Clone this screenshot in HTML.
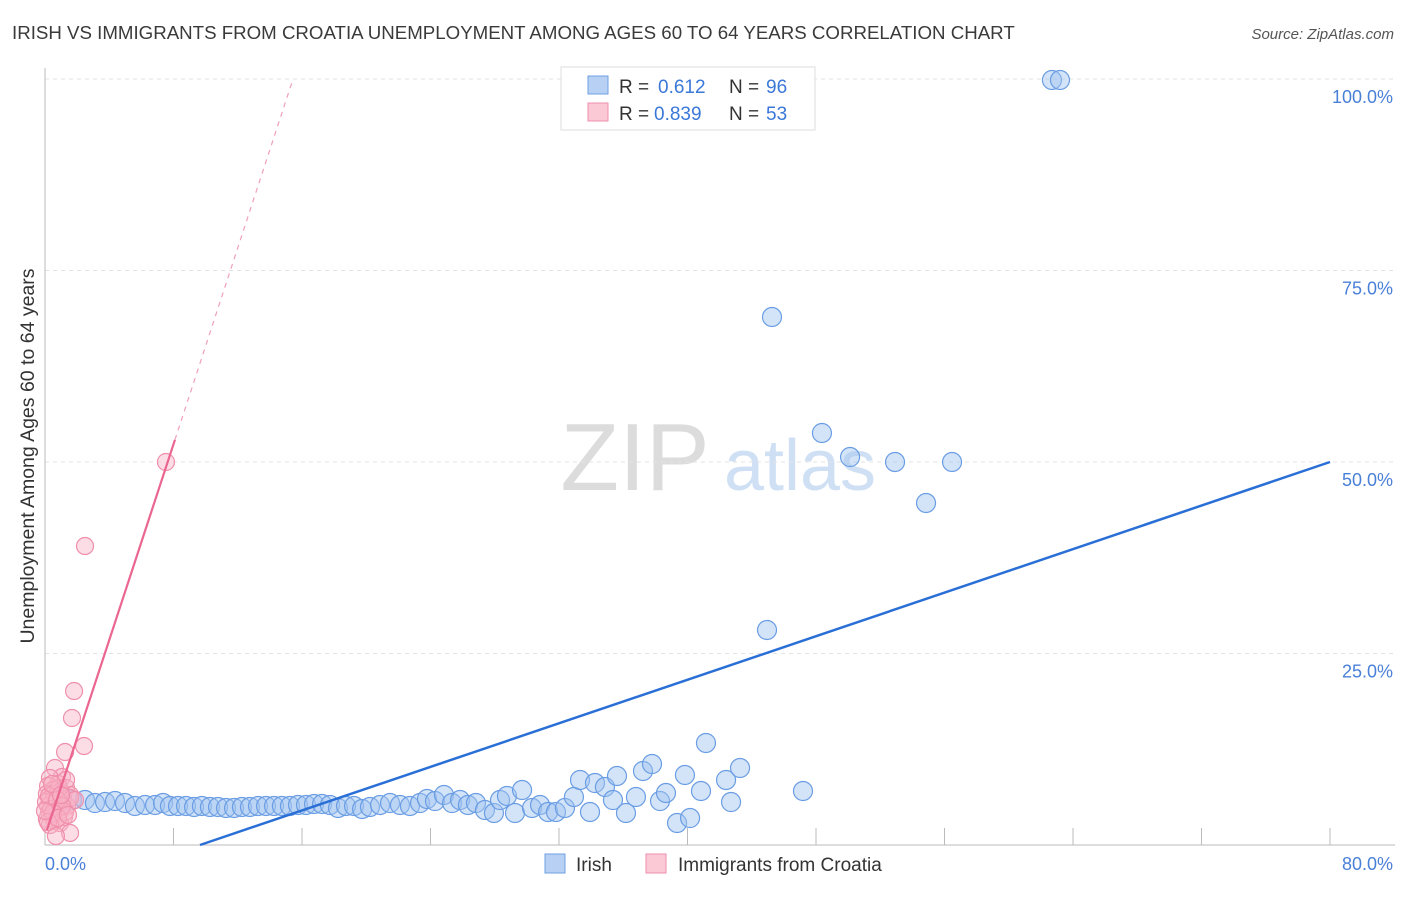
<!DOCTYPE html>
<html><head><meta charset="utf-8">
<style>
body{margin:0;background:#fff;font-family:"Liberation Sans",sans-serif;}
svg text{font-family:"Liberation Sans",sans-serif;}
</style></head>
<body>
<svg id="chart" width="1406" height="892" xmlns="http://www.w3.org/2000/svg">
<text x="12" y="39" font-size="18.7" fill="#3a3a3a">IRISH VS IMMIGRANTS FROM CROATIA UNEMPLOYMENT AMONG AGES 60 TO 64 YEARS CORRELATION CHART</text>
<text x="1394" y="39" font-size="15" fill="#555" text-anchor="end" font-style="italic">Source: ZipAtlas.com</text>
<g>
<text x="635" y="490" font-size="96" fill="#dcdcdc" font-family="Liberation Serif" text-anchor="middle">ZIP</text>
<text x="800" y="490" font-size="72" fill="#cfe0f5" text-anchor="middle">atlas</text>
</g>
<g id="grid"></g>
<g id="axes"></g>
<g id="marks"></g>
<text transform="translate(34,456) rotate(-90)" font-size="19.5" fill="#333" text-anchor="middle">Unemployment Among Ages 60 to 64 years</text>
<g>
<rect x="561" y="67" width="254" height="63" fill="#fff" stroke="#ddd"/>
<rect x="588" y="76" width="20" height="18" fill="#b7d0f3" stroke="#6f9fe0"/>
<rect x="588" y="103" width="20" height="18" fill="#fbc8d6" stroke="#ef8fab"/>
<text x="619" y="93" font-size="19" fill="#333">R =</text>
<text x="658" y="93" font-size="19" fill="#3a78d8">0.612</text>
<text x="729" y="93" font-size="19" fill="#333">N =</text>
<text x="766" y="93" font-size="19" fill="#3a78d8">96</text>
<text x="619" y="120" font-size="19" fill="#333">R =</text>
<text x="654" y="120" font-size="19" fill="#3a78d8">0.839</text>
<text x="729" y="120" font-size="19" fill="#333">N =</text>
<text x="766" y="120" font-size="19" fill="#3a78d8">53</text>
</g>
<g>
<rect x="545" y="854" width="20" height="19" fill="#b7d0f3" stroke="#6f9fe0"/>
<text x="576" y="871" font-size="19" fill="#333">Irish</text>
<rect x="646" y="854" width="20" height="19" fill="#fbc8d6" stroke="#ef8fab"/>
<text x="678" y="871" font-size="19" fill="#333">Immigrants from Croatia</text>
</g>
</svg>
<script>
const xTickLabels=["0.0%","80.0%"];
const yTicks=[25,50,75,100];
const yTickLabels=["25.0%","50.0%","75.0%","100.0%"];
const irishPx=[[62,797],[72,800],[85,800],[95,803],[105,802],[115,801],[125,803],[135,806],[145,805],[155,805],[163,803],[170,806],[178,806],[186,806],[194,807],[202,806],[210,807],[218,807],[226,808],[234,808],[242,807],[250,807],[258,806],[266,806],[274,806],[282,806],[290,806],[298,805],[306,805],[314,804],[322,804],[330,805],[338,808],[346,806],[354,806],[362,809],[370,807],[380,805],[390,803],[400,805],[410,806],[420,803],[427,799],[435,801],[444,795],[452,803],[460,800],[468,805],[476,803],[485,810],[494,813],[500,800],[507,796],[515,813],[522,790],[532,808],[540,805],[548,812],[556,812],[565,808],[574,797],[580,780],[590,812],[595,783],[605,787],[613,800],[617,776],[626,813],[636,797],[643,771],[652,764],[660,801],[666,793],[677,823],[685,775],[690,818],[701,791],[706,743],[726,780],[731,802],[740,768],[803,791],[767,630],[772,317],[822,433],[850,457],[895,462],[926,503],[952,462],[1052,80],[1060,80]];
const croatiaPx=[[166,462],[85,546],[74,691],[72,718],[84,746],[65,752],[55,768],[62,777],[50,778],[58,784],[48,786],[66,788],[53,790],[60,792],[47,794],[70,795],[56,797],[50,799],[63,800],[52,802],[58,804],[48,806],[67,806],[55,808],[61,810],[49,812],[57,814],[52,816],[64,817],[47,819],[55,821],[60,823],[50,825],[70,798],[75,800],[54,794],[46,802],[59,788],[65,812],[51,809],[49,796],[57,800],[62,806],[53,813],[48,822],[70,833],[56,836],[66,780],[58,818],[45,811],[52,784],[61,795],[68,815]];
const toVX=p=>(p-45)/1285*80, toVY=p=>(845-p)/766*100;
const irishX=irishPx.map(p=>+toVX(p[0]).toFixed(2)), irishY=irishPx.map(p=>+toVY(p[1]).toFixed(2));
const croX=croatiaPx.map(p=>+toVX(p[0]).toFixed(2)), croY=croatiaPx.map(p=>+toVY(p[1]).toFixed(2));
const irishTrend=[[9.65,0],[80,50]];
const croTrend=[[0.12,1.96],[8.09,52.9]];
const croTrendExt=[[8.09,52.9],[15.44,100]];

const X=v=>45+v/80*1285, Y=v=>845-v/100*766;
const NS="http://www.w3.org/2000/svg";
function mk(tag,at,parent){const e=document.createElementNS(NS,tag);for(const k in at)e.setAttribute(k,at[k]);document.getElementById(parent).appendChild(e);return e;}
yTicks.forEach((t,i)=>{
  const g=mk('line',{x1:45,x2:1395,y1:Y(t),y2:Y(t),stroke:'#e3e3e3','stroke-dasharray':'4,4'},'grid');
  
  
  const l=mk('text',{x:1393,y:Y(t)+24,'font-size':18,fill:'#4a80d8','text-anchor':'end'},'axes');
  l.textContent=yTickLabels[i];
  
  
});
const xa=mk('line',{x1:45,x2:1395,y1:845,y2:845,stroke:'#bbb'},'axes');


const ya=mk('line',{x1:45,x2:45,y1:68,y2:845,stroke:'#bbb'},'axes');


for(let i=1;i<=10;i++){const t=mk('line',{x1:X(i*8),x2:X(i*8),y1:828,y2:845,stroke:'#bbb'},'axes');

}
[[0,'start',45],[80,'end',1393]].forEach((d,i)=>{const t=mk('text',{x:d[2],y:870,'font-size':18,fill:'#4a80d8','text-anchor':d[1]},'axes');t.textContent=xTickLabels[i];

});
irishX.forEach((v,i)=>{const c=mk('circle',{cx:X(v),cy:Y(irishY[i]),r:9.5,fill:'rgba(160,195,240,0.45)',stroke:'#6a9de3','stroke-width':1.2},'marks');

});
croX.forEach((v,i)=>{const c=mk('circle',{cx:X(v),cy:Y(croY[i]),r:8.5,fill:'rgba(248,180,200,0.45)',stroke:'#ef8fab','stroke-width':1.2},'marks');

});
const l1=mk('line',{x1:X(irishTrend[0][0]),y1:Y(irishTrend[0][1]),x2:X(irishTrend[1][0]),y2:Y(irishTrend[1][1]),stroke:'#2a6fd6','stroke-width':2.5},'marks');


const l2=mk('line',{x1:X(croTrend[0][0]),y1:Y(croTrend[0][1]),x2:X(croTrend[1][0]),y2:Y(croTrend[1][1]),stroke:'#ea6690','stroke-width':2.2},'marks');


const l3=mk('line',{x1:X(croTrendExt[0][0]),y1:Y(croTrendExt[0][1]),x2:X(croTrendExt[1][0]),y2:Y(croTrendExt[1][1]),stroke:'#f0a0b8','stroke-width':1.2,'stroke-dasharray':'5,5'},'marks');


</script>
</body></html>
